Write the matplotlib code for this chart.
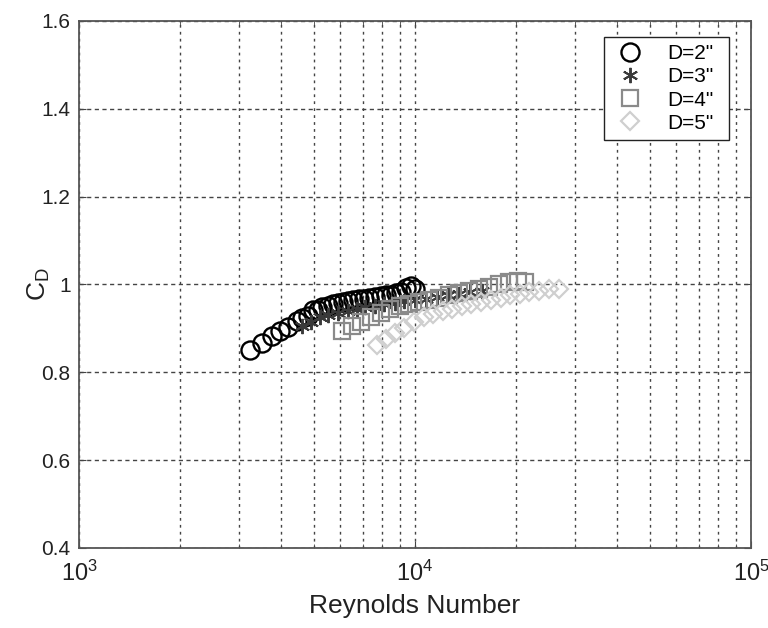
import matplotlib
matplotlib.use("Agg")
import matplotlib.pyplot as plt
from matplotlib.patches import Rectangle
from matplotlib.ticker import LogLocator, FixedLocator

plt.rcParams['font.family'] = ['Liberation Sans', 'DejaVu Sans']
plt.rcParams['mathtext.fontset'] = 'custom'
plt.rcParams['mathtext.rm'] = 'Liberation Sans'
plt.rcParams['mathtext.it'] = 'Liberation Sans:italic'

# drag coefficient vs Reynolds number, one series per diameter
re_d2 = [3230, 3510, 3750, 3960, 4190, 4460, 4610, 4810, 4970, 5150, 5300, 5500,
         5700, 5900, 6100, 6300, 6550, 6800, 7050, 7300, 7600, 7900, 8200, 8500,
         8800, 9100, 9400, 9700, 10000]
cd_d2 = [0.850, 0.866, 0.882, 0.895, 0.904, 0.916, 0.923, 0.929, 0.941, 0.943, 0.948, 0.952,
         0.955, 0.957, 0.960, 0.962, 0.964, 0.966, 0.968, 0.970, 0.971, 0.973, 0.975, 0.977,
         0.980, 0.984, 0.992, 0.996, 0.990]

re_d3 = [4600, 4900, 5200, 5500, 5900, 6300, 6700, 7100, 7600, 8100,
         8700, 9300, 10000, 10800, 11600, 12500, 13500, 14600, 15800]
cd_d3 = [0.905, 0.915, 0.925, 0.930, 0.936, 0.940, 0.945, 0.948, 0.952, 0.955,
         0.958, 0.962, 0.965, 0.968, 0.972, 0.975, 0.978, 0.982, 0.985]

re_d4 = [6070, 6500, 6900, 7400, 7900, 8400, 9000, 9600, 10300, 11000,
         11800, 12600, 13500, 14500, 15500, 16600, 17800, 19000, 20300, 21300]
cd_d4 = [0.895, 0.905, 0.915, 0.925, 0.935, 0.945, 0.950, 0.955, 0.960, 0.965,
         0.970, 0.975, 0.980, 0.985, 0.990, 0.995, 1.000, 1.005, 1.008, 1.005]

re_d5 = [7700, 8200, 8700, 9300, 9900, 10600, 11300, 12100, 12900, 13800,
         14700, 15700, 16800, 18000, 19200, 20500, 21900, 23400, 25000, 26800]
cd_d5 = [0.862, 0.875, 0.890, 0.900, 0.915, 0.925, 0.932, 0.940, 0.945, 0.950,
         0.955, 0.960, 0.965, 0.970, 0.975, 0.978, 0.982, 0.986, 0.990, 0.990]

labels = ['D=2"', 'D=3"', 'D=4"', 'D=5"']
y_ticks = [0.4, 0.6, 0.8, 1.0, 1.2, 1.4, 1.6]
y_ticklabels = ['0.4', '0.6', '0.8', '1', '1.2', '1.4', '1.6']

fig = plt.figure(figsize=(7.68, 6.28), dpi=100)
ax = fig.add_axes([0.1029, 0.1274, 0.875, 0.8392])

asterisk = (6, 2, 0)
ax.plot(re_d2, cd_d2, 'o', ms=13, mfc='none', mec='black', mew=1.7, label=labels[0])
ax.plot(re_d3, cd_d3, marker=asterisk, ls='none', ms=11, mec='#3a3a3a', mew=1.4, label=labels[1])
ax.plot(re_d4, cd_d4, 's', ms=11, mfc='none', mec='#8a8a8a', mew=1.6, label=labels[2])
ax.plot(re_d5, cd_d5, 'D', ms=9, mfc='none', mec='#cfcfcf', mew=1.6, label=labels[3])

ax.set_xscale('log')
ax.set_xlim(1e3, 1e5)
ax.set_ylim(0.4, 1.6)
ax.xaxis.set_major_locator(LogLocator(base=10, numticks=5))
ax.xaxis.set_minor_locator(LogLocator(base=10, subs=range(2, 10), numticks=20))
ax.yaxis.set_major_locator(FixedLocator(y_ticks))
ax.set_yticklabels(y_ticklabels)

ax.grid(True, which='both', axis='x', color='#444444', ls=(0, (2, 3)), lw=1.0)
ax.grid(True, which='major', axis='y', color='#444444', ls=(0, (3, 2.5)), lw=1.0)
ax.set_axisbelow(True)

ax.tick_params(which='both', direction='in', top=True, right=True, color='#444444')
ax.tick_params(which='major', length=5)
ax.tick_params(which='minor', length=3)
ax.tick_params(axis='y', labelsize=15, pad=6, labelcolor='#222222')
ax.tick_params(axis='x', labelsize=17, pad=9, labelcolor='#222222')
for sp in ax.spines.values():
    sp.set_color('#555555')
    sp.set_linewidth(1.3)

ax.set_xlabel('Reynolds Number', fontsize=19, color='#222222', labelpad=6)
ax.set_ylabel(r'$\mathregular{C_D}$', fontsize=19, color='#222222')
ax.yaxis.set_label_coords(-0.040, 0.5)

# legend without its own frame; box drawn afterwards with extra room on the right
leg = ax.legend(loc='upper left', bbox_to_anchor=(0.781, 0.9696), fontsize=15,
                frameon=False, borderpad=0.35, labelspacing=0.2,
                handletextpad=0.87, handlelength=1.83, borderaxespad=0)
leg.set_zorder(6)
fig.canvas.draw()
bb = leg.get_window_extent().transformed(fig.transFigure.inverted())
extra = 8 / fig.bbox.width
ax.add_patch(Rectangle((bb.x0, bb.y0), bb.width + extra, bb.height,
                       transform=fig.transFigure, facecolor='white',
                       edgecolor='#222222', lw=1.0, zorder=5, clip_on=False))

fig.savefig('out.png', dpi=100)
